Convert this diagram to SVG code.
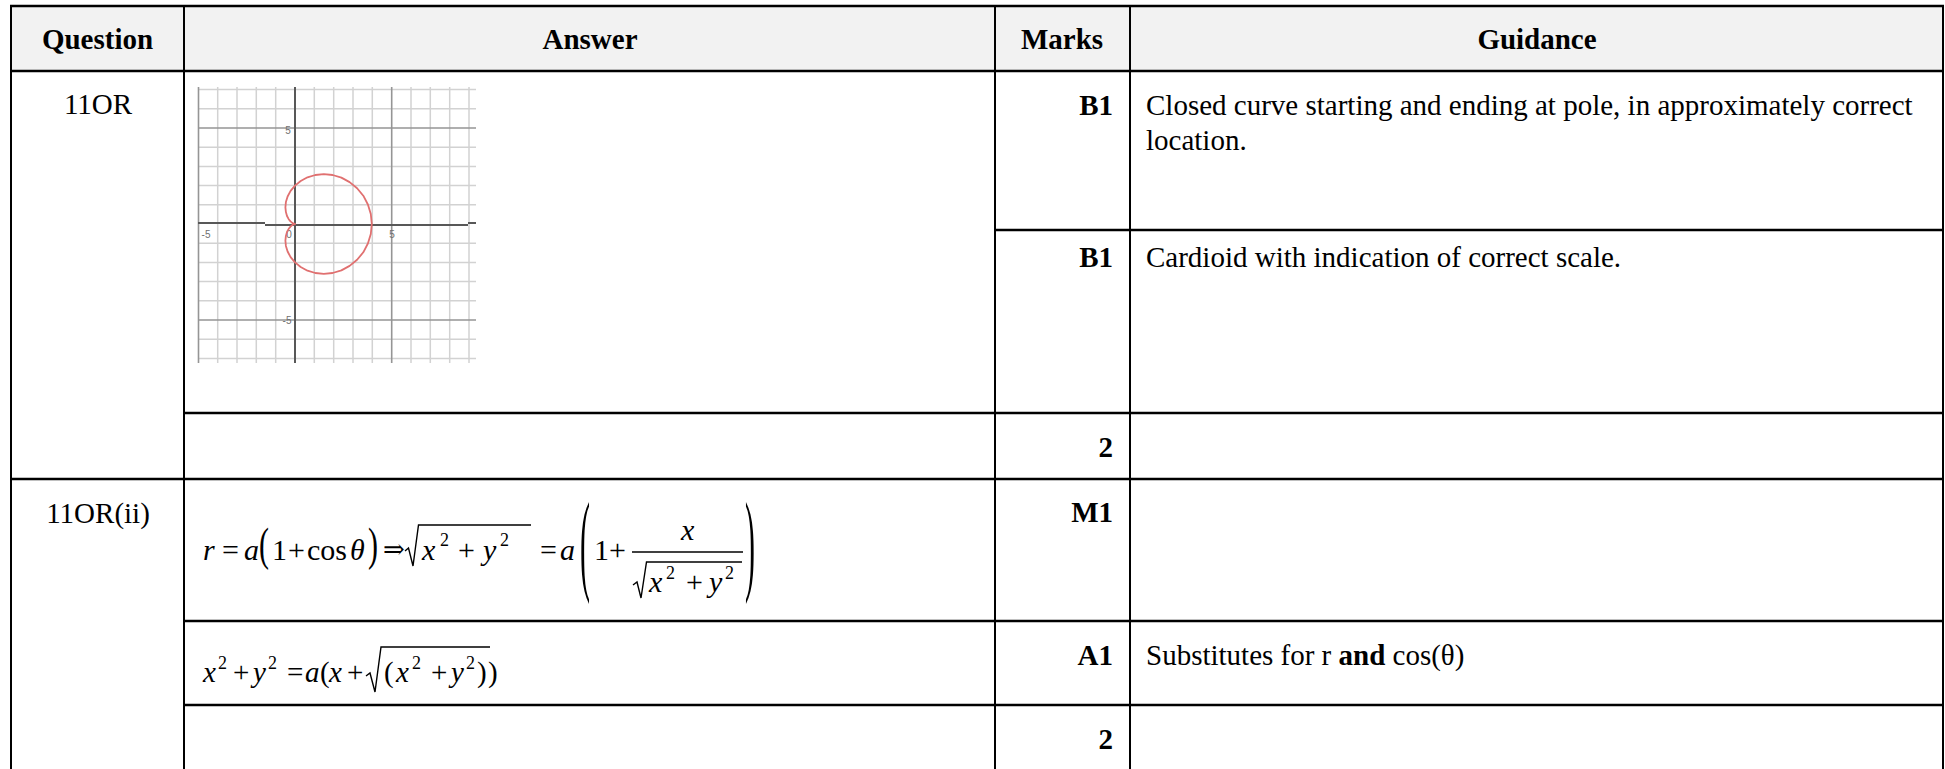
<svg xmlns="http://www.w3.org/2000/svg" width="1945" height="769" viewBox="0 0 1945 769">
<style>
text { font-family: 'Liberation Serif', 'Times New Roman', serif; fill: #000; }
.t { font-size: 29px; }
.h { font-size: 29px; font-weight: bold; text-anchor: middle; }
.m { font-size: 29px; font-weight: bold; text-anchor: end; }
.c { text-anchor: middle; }
.bd { font-weight: bold; }
.eq { font-size: 30px; }
.eq2 { font-size: 29px; }
.i { font-style: italic; }
.sup { font-size: 18px; }
.arr { font-family: 'DejaVu Serif', 'Liberation Serif', serif; font-size: 26px; }
.rv { stroke: #000; stroke-width: 2; }
.rh { stroke: #000; stroke-width: 2.5; }
.vin { stroke: #000; stroke-width: 1.4; fill: none; stroke-linejoin: miter; }
.gmin { stroke: #d2d2d2; stroke-width: 1.5; }
.gmaj { stroke: #959595; stroke-width: 1.6; }
.ax { stroke: #585858; stroke-width: 2; }
.tick { font-family: 'Liberation Sans', Arial, sans-serif; font-size: 10px; fill: #707070; text-anchor: middle; }
</style>

<rect x="11" y="6" width="1932" height="65" fill="#f2f2f2"/>

<g id="header">
<text class="h" x="97.5" y="49">Question</text>
<text class="h" x="590" y="49">Answer</text>
<text class="h" x="1062" y="49">Marks</text>
<text class="h" x="1537" y="49">Guidance</text>
</g>

<g id="q1">
<text class="t c" x="98" y="114">11OR</text>
</g>

<g id="graph">
<rect x="198" y="87" width="278" height="276" fill="#fff"/>
<g class="gmin">
<line x1="217.7" y1="87" x2="217.7" y2="363"/>
<line x1="237" y1="87" x2="237" y2="363"/>
<line x1="256.3" y1="87" x2="256.3" y2="363"/>
<line x1="275.7" y1="87" x2="275.7" y2="363"/>
<line x1="314.3" y1="87" x2="314.3" y2="363"/>
<line x1="333.7" y1="87" x2="333.7" y2="363"/>
<line x1="353" y1="87" x2="353" y2="363"/>
<line x1="372.3" y1="87" x2="372.3" y2="363"/>
<line x1="411" y1="87" x2="411" y2="363"/>
<line x1="430.3" y1="87" x2="430.3" y2="363"/>
<line x1="449.7" y1="87" x2="449.7" y2="363"/>
<line x1="469" y1="87" x2="469" y2="363"/>
<line x1="198" y1="89.6" x2="476" y2="89.6"/>
<line x1="198" y1="108.8" x2="476" y2="108.8"/>
<line x1="198" y1="147.2" x2="476" y2="147.2"/>
<line x1="198" y1="166.4" x2="476" y2="166.4"/>
<line x1="198" y1="185.6" x2="476" y2="185.6"/>
<line x1="198" y1="204.8" x2="476" y2="204.8"/>
<line x1="198" y1="243.2" x2="476" y2="243.2"/>
<line x1="198" y1="262.4" x2="476" y2="262.4"/>
<line x1="198" y1="281.6" x2="476" y2="281.6"/>
<line x1="198" y1="300.8" x2="476" y2="300.8"/>
<line x1="198" y1="339.2" x2="476" y2="339.2"/>
<line x1="198" y1="358.4" x2="476" y2="358.4"/>
</g>
<g class="gmaj">
<line x1="198.5" y1="87" x2="198.5" y2="363"/>
<line x1="391.7" y1="87" x2="391.7" y2="363"/>
<line x1="198" y1="128" x2="476" y2="128"/>
<line x1="198" y1="320" x2="476" y2="320"/>
</g>
<g class="ax">
<line x1="295" y1="87" x2="295" y2="363"/>
<line x1="198" y1="223" x2="265" y2="223"/>
<line x1="265" y1="225" x2="468" y2="225"/>
<line x1="468" y1="223" x2="476" y2="223"/>
</g>
<text class="tick" x="288" y="134">5</text>
<text class="tick" x="206" y="238">-5</text>
<text class="tick" x="289" y="238">0</text>
<text class="tick" x="392" y="238">5</text>
<text class="tick" x="287" y="324">-5</text>
<polyline fill="none" stroke="#e07070" stroke-width="1.8" stroke-linejoin="round" points="371.8,224 370.8,214.0 367.9,204.5 363.3,195.7 357.1,188.2 349.6,182.1 341.4,177.6 332.6,175.0 323.8,174.1 315.3,175.0 307.5,177.3 300.7,181.0 295,185.6 290.6,190.9 287.6,196.5 285.9,202.1 285.4,207.4 285.9,212.1 287.0,216.0 288.7,219.2 290.5,221.4 292.3,222.9 293.7,223.7 295,224 293.7,224.3 292.3,225.1 290.5,226.6 288.7,228.8 287.0,232.0 285.9,235.9 285.4,240.6 285.9,245.9 287.6,251.5 290.6,257.1 295,262.4 300.7,267.0 307.5,270.7 315.3,273.0 323.8,273.9 332.6,273.0 341.4,270.4 349.6,265.9 357.1,259.8 363.3,252.3 367.9,243.5 370.8,234.0 371.8,224"/>
</g>

<g id="mark-b1a">
<text class="m" x="1113" y="115">B1</text>
<text class="t" x="1146" y="115">Closed curve starting and ending at pole, in approximately correct</text>
<text class="t" x="1146" y="150">location.</text>
</g>

<g id="mark-b1b">
<text class="m" x="1113" y="267">B1</text>
<text class="t" x="1146" y="267">Cardioid with indication of correct scale.</text>
</g>

<g id="total1">
<text class="m" x="1113" y="457">2</text>
</g>

<g id="q2">
<text class="t c" x="98" y="523">11OR(ii)</text>
</g>

<g id="eq1" class="eq">
<text y="560"><tspan x="203" class="i">r</tspan><tspan x="222">=</tspan><tspan x="244" class="i">a</tspan><tspan x="272">1</tspan><tspan x="288">+</tspan><tspan x="307">cos</tspan><tspan x="350" class="i">θ</tspan></text>
<text transform="translate(259,547.5) scale(1,1.58)" x="0" y="7.7">(</text>
<text transform="translate(368,547.5) scale(1,1.58)" x="0" y="7.7">)</text>
<text class="arr" x="383" y="558">⇒</text>
<polyline class="vin" points="405,551 408.5,548 413,566 418.5,525 531,525"/>
<text y="560"><tspan x="422" class="i">x</tspan><tspan x="458">+</tspan><tspan x="483" class="i">y</tspan><tspan x="540">=</tspan><tspan x="560" class="i">a</tspan></text>
<text class="sup" y="546"><tspan x="440">2</tspan><tspan x="500">2</tspan></text>
<text transform="translate(580,551) scale(1,3.77)" x="0" y="7.7">(</text>
<text transform="translate(745,551) scale(1,3.77)" x="0" y="7.7">)</text>
<text y="560"><tspan x="594">1</tspan><tspan x="609">+</tspan></text>
<line class="vin" x1="632" y1="552" x2="743" y2="552"/>
<text class="i" x="681" y="540">x</text>
<polyline class="vin" points="633,585 637,582 641,598 646.5,562 742,562"/>
<text y="592"><tspan x="649" class="i">x</tspan><tspan x="686">+</tspan><tspan x="709" class="i">y</tspan></text>
<text class="sup" y="579"><tspan x="666">2</tspan><tspan x="725">2</tspan></text>
</g>

<g id="mark-m1">
<text class="m" x="1113" y="522">M1</text>
</g>

<g id="eq2" class="eq2">
<text y="682"><tspan x="203" class="i">x</tspan><tspan x="233">+</tspan><tspan x="253" class="i">y</tspan><tspan x="287">=</tspan><tspan x="305" class="i">a</tspan><tspan x="320">(</tspan><tspan x="329" class="i">x</tspan><tspan x="347">+</tspan></text>
<text class="sup" y="669"><tspan x="218">2</tspan><tspan x="268">2</tspan></text>
<polyline class="vin" points="366,676 370,673 375,692 381,647 490,647"/>
<text y="682"><tspan x="384">(</tspan><tspan x="396" class="i">x</tspan><tspan x="431">+</tspan><tspan x="451" class="i">y</tspan><tspan x="477">)</tspan><tspan x="488">)</tspan></text>
<text class="sup" y="669"><tspan x="412">2</tspan><tspan x="466">2</tspan></text>
</g>

<g id="mark-a1">
<text class="m" x="1113" y="665">A1</text>
<text class="t" x="1146" y="665">Substitutes for r <tspan class="bd">and</tspan> cos(θ)</text>
</g>

<g id="total2">
<text class="m" x="1113" y="749">2</text>
</g>

<g id="rules">
<line class="rh" x1="10" y1="6" x2="1944" y2="6"/>
<line class="rh" x1="10" y1="71" x2="1944" y2="71"/>
<line class="rh" x1="995" y1="230" x2="1944" y2="230"/>
<line class="rh" x1="184" y1="413" x2="1944" y2="413"/>
<line class="rh" x1="10" y1="479" x2="1944" y2="479"/>
<line class="rh" x1="184" y1="621" x2="1944" y2="621"/>
<line class="rh" x1="184" y1="705" x2="1944" y2="705"/>
<line class="rv" x1="11" y1="5" x2="11" y2="769"/>
<line class="rv" x1="184" y1="5" x2="184" y2="769"/>
<line class="rv" x1="995" y1="5" x2="995" y2="769"/>
<line class="rv" x1="1130" y1="5" x2="1130" y2="769"/>
<line class="rv" x1="1943" y1="5" x2="1943" y2="769"/>
</g>
</svg>
